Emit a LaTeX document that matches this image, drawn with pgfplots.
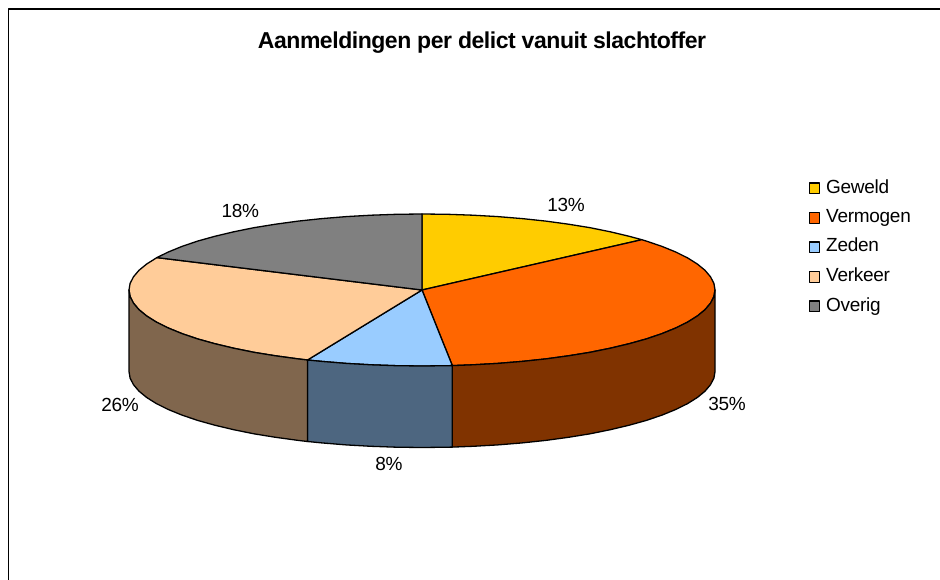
\documentclass[border=0pt]{standalone}
\usepackage{fontspec}
\usepackage{pgfplots}
\pgfplotsset{compat=1.18}
\setmainfont{Liberation Sans}
\newfontfamily\titlef[LetterSpace=-2]{Liberation Sans Bold}
\newfontfamily\labf[LetterSpace=-1.5]{Liberation Sans}
\definecolor{geweld}{HTML}{FFCC00}
\definecolor{vermogen}{HTML}{FF6600}
\definecolor{zeden}{HTML}{99CCFF}
\definecolor{verkeer}{HTML}{FFCC99}
\definecolor{overig}{HTML}{808080}
\definecolor{vermogenS}{HTML}{803300}
\definecolor{zedenS}{HTML}{4D6680}
\definecolor{verkeerS}{HTML}{80664D}
\begin{document}
\begin{tikzpicture}
\begin{axis}[
  scale only axis, width=940pt, height=580pt,
  xmin=0, xmax=940, ymin=0, ymax=580, y dir=reverse,
  hide axis, clip=false,
  legend cell align=left,
  legend image code/.code={\draw[#1,line width=1.2pt] (0pt,-0.6pt) rectangle (10.5pt,10pt);},
  legend style={at={(axis cs:808.5,179.5)},anchor=north west,draw=none,fill=none,inner sep=0pt,outer sep=0pt,
    font=\fontsize{19}{19}\labf,
    nodes={inner sep=0pt,text height=13.5pt,text depth=0pt,anchor=base west},
    /tikz/every odd column/.append style={column sep=6pt},
    row sep=14.8pt},
  every axis plot/.append style={draw=black,line width=1.3pt,line join=round,mark=none},
]
\path[use as bounding box] (axis cs:0,0) rectangle (axis cs:940,580);
% top faces
\addplot[fill=geweld] coordinates {(422,290)(422,214)(447.5,214.3)(472.9,215.2)(497.8,216.6)(522.2,218.6)(545.8,221.1)(568.5,224.2)(590.1,227.7)(610.3,231.8)(629.2,236.3)(641.8,239.7)} --cycle;
\addlegendentry{Geweld}
\addplot[fill=vermogen] coordinates {(422,290)(641.8,239.7)(646.4,241.1)(662,246.4)(675.7,252)(687.6,257.9)(697.3,264)(705,270.3)(710.5,276.8)(713.9,283.4)(715,290)(713.9,296.6)(710.5,303.2)(705,309.7)(697.3,316)(687.6,322.1)(675.7,328)(662,333.6)(646.4,338.9)(629.2,343.7)(610.3,348.2)(590.1,352.3)(568.5,355.8)(545.8,358.9)(522.2,361.4)(497.8,363.4)(472.9,364.8)(452.3,365.6)} --cycle;
\addlegendentry{Vermogen}
\addplot[fill=zeden] coordinates {(422,290)(452.3,365.6)(447.5,365.7)(422,366)(396.5,365.7)(371.1,364.8)(346.2,363.4)(321.8,361.4)(307.5,360)} --cycle;
\addlegendentry{Zeden}
\addplot[fill=verkeer] coordinates {(422,290)(307.5,360)(298.2,358.9)(275.5,355.8)(253.9,352.3)(233.7,348.2)(214.8,343.7)(197.6,338.9)(182,333.6)(168.3,328)(156.4,322.1)(146.7,316)(139,309.7)(133.5,303.2)(130.1,296.6)(129,290)(130.1,283.4)(133.5,276.8)(139,270.3)(146.7,264)(156.9,257.6)} --cycle;
\addlegendentry{Verkeer}
\addplot[fill=overig] coordinates {(422,290)(156.9,257.6)(168.3,252)(182,246.4)(197.6,241.1)(214.8,236.3)(233.7,231.8)(253.9,227.7)(275.5,224.2)(298.2,221.1)(321.8,218.6)(346.2,216.6)(371.1,215.2)(396.5,214.3)(422,214)} --cycle;
\addlegendentry{Overig}
% side walls
\addplot[fill=vermogenS,forget plot] coordinates {(715,290)(713.9,296.6)(710.5,303.2)(705,309.7)(697.3,316)(687.6,322.1)(675.7,328)(662,333.6)(646.4,338.9)(629.2,343.7)(610.3,348.2)(590.1,352.3)(568.5,355.8)(545.8,358.9)(522.2,361.4)(497.8,363.4)(472.9,364.8)(452.3,365.6)(452.3,447.1)(472.9,446.3)(497.8,444.9)(522.2,442.9)(545.8,440.4)(568.5,437.3)(590.1,433.8)(610.3,429.7)(629.2,425.2)(646.4,420.4)(662,415.1)(675.7,409.5)(687.6,403.6)(697.3,397.5)(705,391.2)(710.5,384.7)(713.9,378.1)(715,371.5)} --cycle;
\addplot[fill=zedenS,forget plot] coordinates {(452.3,365.6)(447.5,365.7)(422,366)(396.5,365.7)(371.1,364.8)(346.2,363.4)(321.8,361.4)(307.5,360)(307.5,441.5)(321.8,442.9)(346.2,444.9)(371.1,446.3)(396.5,447.2)(422,447.5)(447.5,447.2)(452.3,447.1)} --cycle;
\addplot[fill=verkeerS,forget plot] coordinates {(307.5,360)(298.2,358.9)(275.5,355.8)(253.9,352.3)(233.7,348.2)(214.8,343.7)(197.6,338.9)(182,333.6)(168.3,328)(156.4,322.1)(146.7,316)(139,309.7)(133.5,303.2)(130.1,296.6)(129,290)(129,371.5)(130.1,378.1)(133.5,384.7)(139,391.2)(146.7,397.5)(156.4,403.6)(168.3,409.5)(182,415.1)(197.6,420.4)(214.8,425.2)(233.7,429.7)(253.9,433.8)(275.5,437.3)(298.2,440.4)(307.5,441.5)} --cycle;
% frame
\addplot[forget plot,line width=1.2pt] coordinates {(8.5,580)(8.5,9)(940,9)};
% texts
\node[anchor=base,inner sep=0pt,font=\fontsize{23}{23}\titlef] at (axis cs:482,48.5) {Aanmeldingen per delict vanuit slachtoffer};
\node[anchor=base,inner sep=0pt,font=\fontsize{19}{19}\labf] at (axis cs:566,211.3) {13\%};
\node[anchor=base,inner sep=0pt,font=\fontsize{19}{19}\labf] at (axis cs:727,410.7) {35\%};
\node[anchor=base,inner sep=0pt,font=\fontsize{19}{19}\labf] at (axis cs:389,470) {8\%};
\node[anchor=base,inner sep=0pt,font=\fontsize{19}{19}\labf] at (axis cs:120,411.7) {26\%};
\node[anchor=base,inner sep=0pt,font=\fontsize{19}{19}\labf] at (axis cs:240.3,217.3) {18\%};
\end{axis}
\end{tikzpicture}
\end{document}
